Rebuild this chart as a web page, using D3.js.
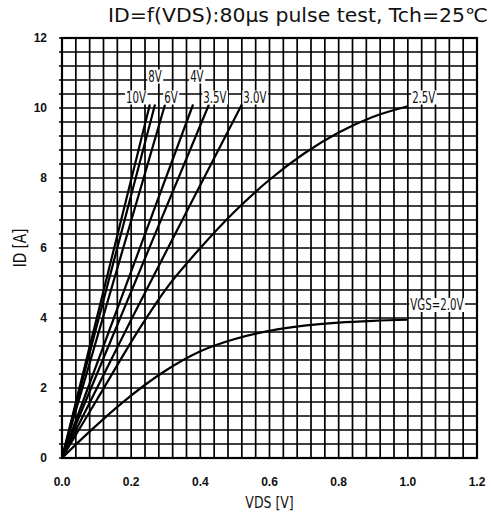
<!DOCTYPE html>
<html>
<head>
<meta charset="utf-8">
<script src="https://cdn.jsdelivr.net/npm/d3@7"></script>
<style>
  body { margin: 0; background: #fff; }
  svg { display: block; }
  .tick-label { font-family: 'Liberation Sans', Arial, sans-serif; font-weight: bold; font-size: 12px; fill: #111; }
  .cond { font-family: 'DejaVu Sans', 'Liberation Sans', sans-serif; fill: #111; }
</style>
</head>
<body>
<div id="chart"></div>
<script>
// ticks
let vdsTicks = [0, 0.2, 0.4, 0.6, 0.8, 1.0, 1.2];
let idTicks = [0, 2, 4, 6, 8, 10, 12];

// curve names
let seriesNames = ['10V', '8V', '6V', '4V', '3.5V', '3.0V', '2.5V', 'VGS=2.0V'];

// VDS / ID values
let vds10 = [0, 0.254];
let id10 = [0, 10.1];
let vds8 = [0, 0.269];
let id8 = [0, 10.1];
let vds6 = [0, 0.298];
let id6 = [0, 10.1];
let vds4 = [0, 0.379];
let id4 = [0, 10.1];
let vds35 = [0, 0.425];
let id35 = [0, 10.1];
let vds30 = [0, 0.2, 0.4, 0.52];
let id30 = [0, 3.95, 7.8, 10.1];
let vds25 = [0, 0.1, 0.225, 0.3, 0.4, 0.5, 0.6, 0.7, 0.8, 0.9, 1.0];
let id25 = [0, 1.65, 3.71, 4.82, 6.0, 7.05, 7.95, 8.7, 9.3, 9.75, 10.05];
let vds20 = [0, 0.075, 0.173, 0.3, 0.4, 0.5, 0.6, 0.7, 0.8, 0.9, 1.0];
let id20 = [0, 0.71, 1.57, 2.5, 3.05, 3.4, 3.63, 3.78, 3.87, 3.92, 3.95];

// label anchor points (data units)
let labelV = [0.214, 0.269, 0.315, 0.39, 0.442, 0.558, 1.046, 1.084];
let labelI = [10.3, 10.9, 10.3, 10.9, 10.3, 10.3, 10.3, 4.37];

let seriesV = [vds10, vds8, vds6, vds4, vds35, vds30, vds25, vds20];
let seriesI = [id10, id8, id6, id4, id35, id30, id25, id20];

let chart_width = 491;
let chart_height = 513;
let plot_left = 62, plot_right = 477, plot_top = 38, plot_bottom = 458;

let svg = d3
  .select('#chart')
  .append('svg')
  .attr('width', chart_width)
  .attr('height', chart_height);

let x_scale = d3.scaleLinear().domain([0, 1.2]).range([plot_left, plot_right]);
let y_scale = d3.scaleLinear().domain([0, 12]).range([plot_bottom, plot_top]);

//squeeze text horizontally (narrow gothic look of the datasheet)
function squeeze(sel, k) {
  sel.each(function () {
    let w = this.getComputedTextLength();
    d3.select(this)
      .attr('textLength', w * k)
      .attr('lengthAdjust', 'spacingAndGlyphs');
  });
}

//grid 30 x 30 cells
let xGrid = d3.range(31).map(i => i * 0.04);
let yGrid = d3.range(31).map(i => i * 0.4);

svg.append('g')
  .selectAll('line')
  .data(xGrid)
  .enter()
  .append('line')
  .attr('x1', d => x_scale(d))
  .attr('x2', d => x_scale(d))
  .attr('y1', plot_top)
  .attr('y2', plot_bottom)
  .attr('stroke', '#000')
  .attr('stroke-width', 1.7);

svg.append('g')
  .selectAll('line')
  .data(yGrid)
  .enter()
  .append('line')
  .attr('x1', plot_left - 3)
  .attr('x2', plot_right)
  .attr('y1', d => y_scale(d))
  .attr('y2', d => y_scale(d))
  .attr('stroke', '#000')
  .attr('stroke-width', 1.7);

svg.append('rect')
  .attr('x', plot_left)
  .attr('y', plot_top)
  .attr('width', plot_right - plot_left)
  .attr('height', plot_bottom - plot_top)
  .attr('fill', 'none')
  .attr('stroke', '#000')
  .attr('stroke-width', 2.2);

//tick labels
svg.append('g')
  .selectAll('text')
  .data(vdsTicks)
  .enter()
  .append('text')
  .attr('class', 'tick-label')
  .attr('x', d => x_scale(d))
  .attr('y', plot_bottom + 28)
  .attr('text-anchor', 'middle')
  .text(d => d.toFixed(1));

svg.append('g')
  .selectAll('text')
  .data(idTicks)
  .enter()
  .append('text')
  .attr('class', 'tick-label')
  .attr('x', plot_left - 15)
  .attr('y', d => y_scale(d) + 4)
  .attr('text-anchor', 'end')
  .text(d => d);

//axis titles
svg.append('text')
  .attr('class', 'cond')
  .attr('x', x_scale(0.6))
  .attr('y', plot_bottom + 50)
  .attr('text-anchor', 'middle')
  .style('font-size', '16px')
  .text('VDS [V]')
  .call(squeeze, 0.78);

svg.append('text')
  .attr('class', 'cond')
  .attr('transform', 'translate(26,' + y_scale(6) + ') rotate(-90)')
  .attr('text-anchor', 'middle')
  .style('font-size', '17px')
  .text('ID [A]')
  .call(squeeze, 0.8);

//title
svg.append('text')
  .attr('class', 'cond')
  .attr('x', 108)
  .attr('y', 22)
  .attr('textLength', 380)
  .attr('lengthAdjust', 'spacingAndGlyphs')
  .style('font-size', '19px')
  .text('ID=f(VDS):80μs pulse test, Tch=25℃');

//curves
let line = d3.line()
  .x(d => x_scale(d[0]))
  .y(d => y_scale(d[1]))
  .curve(d3.curveMonotoneX);

svg.append('g')
  .selectAll('path')
  .data(seriesNames)
  .enter()
  .append('path')
  .attr('d', (d, k) => line(seriesV[k].map((v, j) => [v, seriesI[k][j]])))
  .attr('fill', 'none')
  .attr('stroke', '#000')
  .attr('stroke-width', 2.2);

//curve labels with white boxes
let labels = svg.append('g')
  .selectAll('g')
  .data(seriesNames)
  .enter()
  .append('g');

labels.append('text')
  .attr('class', 'cond')
  .attr('x', (d, k) => x_scale(labelV[k]))
  .attr('y', (d, k) => y_scale(labelI[k]) + 5)
  .attr('text-anchor', 'middle')
  .style('font-size', '15px')
  .text(d => d)
  .call(squeeze, 0.68);

labels.each(function () {
  let g = d3.select(this);
  let bb = g.select('text').node().getBBox();
  g.insert('rect', 'text')
    .attr('x', bb.x - 1)
    .attr('y', bb.y + 2)
    .attr('width', bb.width + 2)
    .attr('height', bb.height - 4)
    .attr('fill', '#fff');
});
</script>
</body>
</html>
